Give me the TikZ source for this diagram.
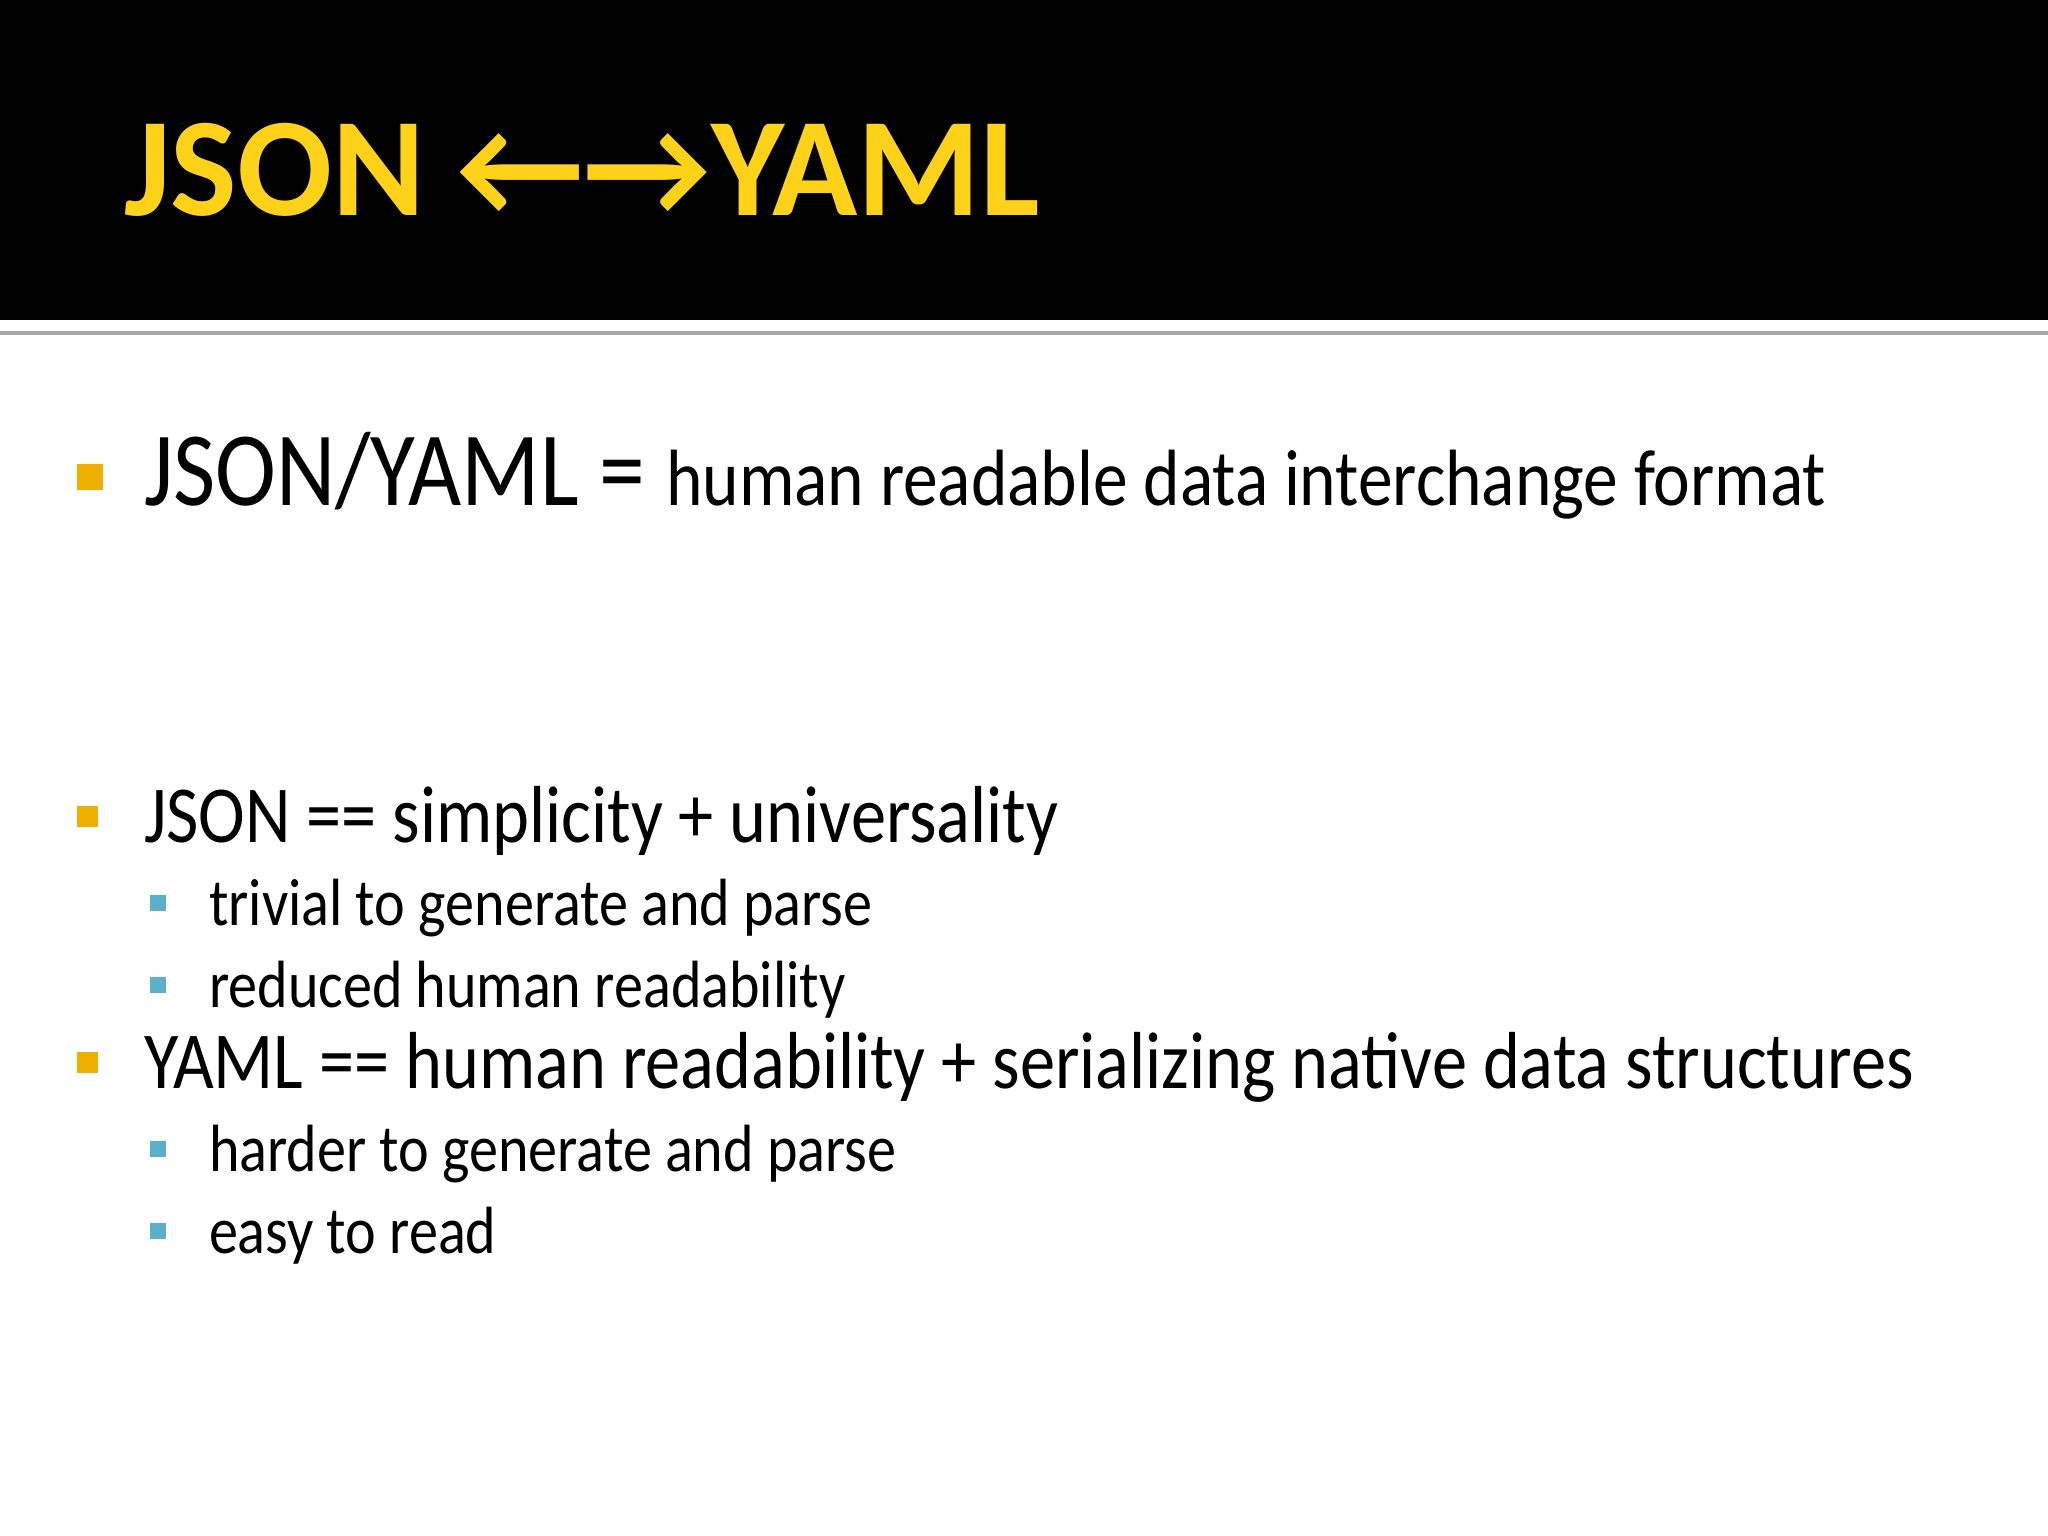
\documentclass[tikz,border=0pt]{standalone}
\usepackage{fontspec}
\setmainfont{Carlito}[FakeStretch=0.87]
\newfontfamily\titlefont{Carlito}
\usetikzlibrary{positioning}
\definecolor{title yellow}{HTML}{FFD21A}
\definecolor{bullet orange}{HTML}{F0B000}
\definecolor{bullet blue}{HTML}{5BAFC8}
\tikzset{
    % Text
    txt/.style={anchor=base west,inner sep=0pt,outer sep=0pt},
    level one/.style={txt,font=\fontsize{23}{27}\selectfont},
    level two/.style={txt,font=\fontsize{19}{23}\selectfont},
    %
    % Bullets
    big square/.style={fill=bullet orange},
    small square/.style={fill=bullet blue}
}
\begin{document}
\begin{tikzpicture}[x=0.01cm,y=-0.01cm]
        \useasboundingbox (0,0) rectangle (2048,1536);
        \fill[white] (0,0) rectangle (2048,1536);
        \fill[black] (0,0) rectangle (2048,320);
        \draw[gray!70,line width=1.2pt] (0,333) -- (2048,333);
        \node[txt,text=title yellow,font=\titlefont\fontsize{40}{44}\selectfont\bfseries] (title) at (124,215) {JSON ←→YAML};
        %
        \fill[big square] (77,464) rectangle (103,490);
        \node[txt,font=\fontsize{30}{34}\selectfont] (def) at (144,505) {JSON/YAML = {\fontsize{22.7}{26}\selectfont human readable data interchange format}};
        %
        \fill[big square] (77,806) rectangle (98,827);
        \node[level one] (json) at (144,842) {JSON == simplicity + universality};
        \fill[small square] (150,895) rectangle (166,911);
        \node[level two] (jsonA) at (209,925) {trivial to generate and parse};
        \fill[small square] (150,977) rectangle (166,993);
        \node[level two] (jsonB) at (209,1007) {reduced human readability};
        %
        \fill[big square] (77,1052) rectangle (98,1073);
        \node[level one] (yaml) at (144,1088) {YAML == human readability + serializing native data structures};
        \fill[small square] (150,1141) rectangle (166,1157);
        \node[level two] (yamlA) at (209,1171) {harder to generate and parse};
        \fill[small square] (150,1223) rectangle (166,1239);
        \node[level two] (yamlB) at (209,1253) {easy to read};
\end{tikzpicture}
\end{document}
